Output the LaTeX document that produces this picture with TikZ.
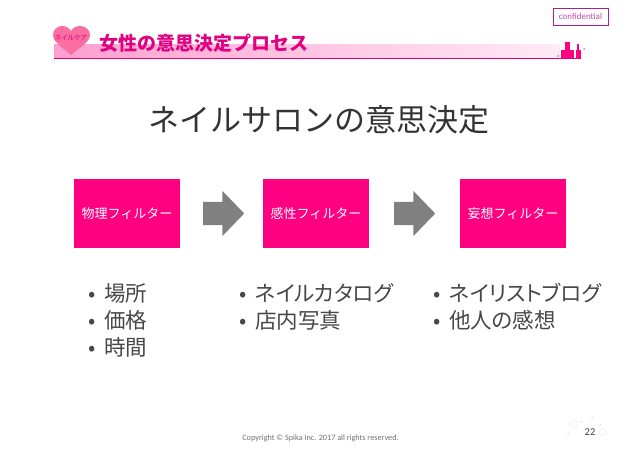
\documentclass[tikz,border=0pt]{standalone}
\usepackage{fontspec}
\setmainfont{Carlito}
\newfontfamily\cjk{Noto Sans CJK JP}
\newfontfamily\cjkprop[RawFeature={+palt}]{Noto Sans CJK JP}
\usetikzlibrary{shapes.arrows}
\definecolor{spikapink}{RGB}{255,0,128}
\definecolor{linepink}{RGB}{226,0,130}
\definecolor{framepurple}{RGB}{176,30,140}
\definecolor{heartpink}{RGB}{250,110,160}
\newcommand{\listitem}[1]{\makebox[16pt][l]{•}#1}
\tikzset{
    filterbox/.style={fill=spikapink,minimum width=106pt,minimum height=69pt,inner sep=0pt,text=white,font=\cjk\fontsize{13}{13}\selectfont},
    nextarrow/.style={single arrow,fill=black!50,single arrow head extend=11pt,single arrow tip angle=92,minimum height=41pt,minimum width=45pt,inner xsep=0pt,inner ysep=11.5pt,anchor=tail},
    itemlist/.style={anchor=north west,align=left,inner sep=0pt,text=black!72,font=\cjkprop\fontsize{21.5}{27}\selectfont},
    sparkle/.style={fill=#1,inner sep=0pt,minimum size=1.5pt,circle}
}
\begin{document}
\begin{tikzpicture}[x=1pt,y=-1pt]
                \useasboundingbox (0,0) rectangle (638,452);
                % title band
                \shade[left color=spikapink!38,right color=spikapink!8] (54,45) rectangle (560,58);
                \draw[linepink,line width=1pt] (54,59) -- (580,59);
                \fill[heartpink] (71,55) .. controls (62,47) and (53,42) .. (53,35) .. controls (53,25) and (67,23) .. (71,31) .. controls (75,23) and (90,25) .. (90,35) .. controls (90,42) and (80,47) .. (71,55) -- cycle;
                \node[text=linepink,inner sep=0pt,font=\cjkprop\fontsize{7}{7}\selectfont] (heartlabel) at (71,38) {ネイルケア};
                \node[anchor=west,inner sep=0pt,text=linepink,font=\cjk\bfseries\fontsize{19}{19}\selectfont] (title) at (99,43) {女性の意思決定プロセス};
                % confidential tag
                \node[draw=framepurple,line width=0.8pt,text=framepurple!80,minimum width=55pt,minimum height=17pt,inner sep=0pt,font=\fontsize{9}{9}\selectfont] (tag) at (580.5,16.5) {confidential};
                % small icons
                \fill[spikapink] (565,42) rectangle (570,50);
                \fill[spikapink] (561,50) rectangle (574,58);
                \fill[spikapink] (576,50) rectangle (581,59);
                \fill[spikapink] (577,44) rectangle (579,50);
                \node[sparkle=spikapink] (sparklea) at (584,49) {};
                \node[sparkle=spikapink] (sparkleb) at (558,56) {};
                % heading
                \node[font=\cjk\fontsize{31}{31}\selectfont,text=black!80] (heading) at (319,119.5) {ネイルサロンの意思決定};
                % filters
                \node[filterbox] (physical) at (127,213.5) {物理フィルター};
                \node[filterbox] (feeling) at (316,213.5) {感性フィルター};
                \node[filterbox] (fantasy) at (513,213.5) {妄想フィルター};
                \node[nextarrow] (stepone) at (203,213.5) {};
                \node[nextarrow] (steptwo) at (394,213.5) {};
                % lists
                \node[itemlist] (listone) at (88,283) {\listitem{場所}\\\listitem{価格}\\\listitem{時間}};
                \node[itemlist] (listtwo) at (239,283) {\listitem{ネイルカタログ}\\\listitem{店内写真}};
                \node[itemlist] (listthree) at (433,283) {\listitem{ネイリストブログ}\\\listitem{他人の感想}};
                % footer
                \node[text=black!55,font=\fontsize{8.2}{8.2}\selectfont] (copyright) at (320.5,438) {Copyright © Spika Inc. 2017 all rights reserved.};
                \node[text=black!75,font=\fontsize{10.5}{10.5}\selectfont] (pagenum) at (590,432) {22};
                \draw[red!30,densely dotted] (574,424) circle (3.5pt);
                \draw[teal!40,densely dotted] (603,432) circle (3.5pt);
                \node[sparkle=black!20] (sparklec) at (582,422) {};
                \node[sparkle=black!20] (sparkled) at (592,418) {};
                \node[sparkle=black!20] (sparklee) at (568,434) {};
                \node[sparkle=black!20] (sparklef) at (600,425) {};
            \end{tikzpicture}
\end{document}
